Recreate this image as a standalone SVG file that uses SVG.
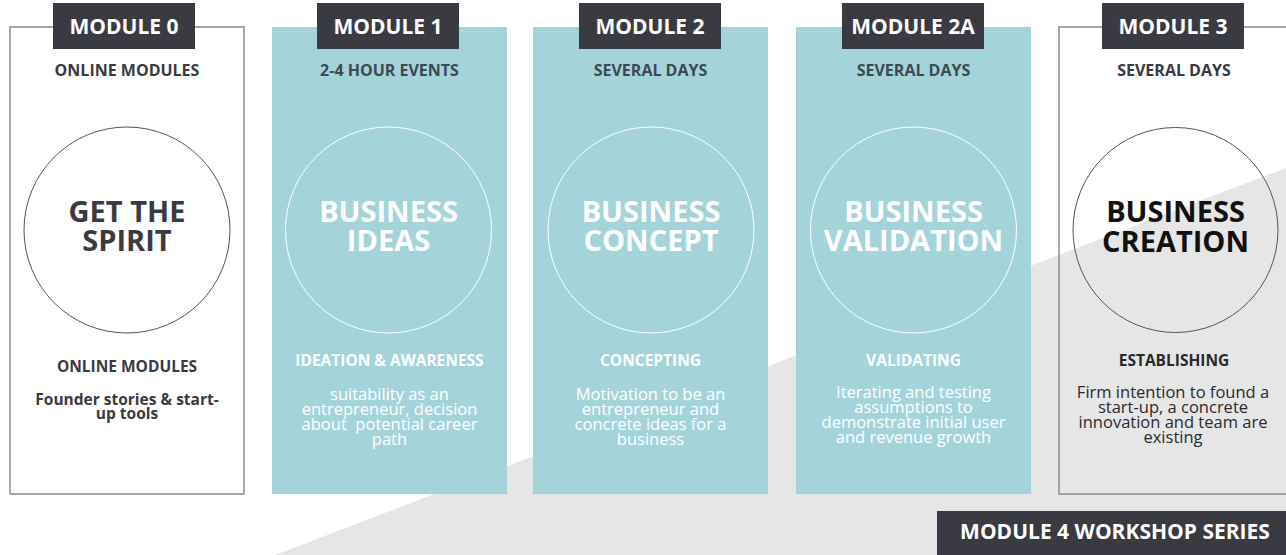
<svg xmlns="http://www.w3.org/2000/svg" width="1286" height="555" viewBox="0 0 1286 555">
<style>
text{font-family:"Open Sans","Liberation Sans",sans-serif;text-anchor:middle}
.frame{fill:none;stroke:#8c8c8c;stroke-width:1.5}
.white{fill:#ffffff}
.teal{fill:#a4d4da}
.hdr{fill:#3a3a42}
.hdrt{fill:#ffffff;font-weight:700;font-size:21px}
.sub{font-weight:700;font-size:16px}
.subd{fill:#3a3a42}
.subt{fill:#3d4a52}
.big{font-weight:700;font-size:29px}
.lbl{font-weight:700;font-size:15.5px}
.desc{font-size:16.5px}
.circd{fill:none;stroke:#555;stroke-width:1}
.circw{fill:none;stroke:#ffffff;stroke-width:1}
</style>
<rect x="0" y="0" width="1286" height="555" fill="#ffffff"/>
<polygon points="275,555 1286,168 1286,555" fill="#e6e6e6"/>

<g id="module0">
<rect x="10" y="27" width="234" height="467" class="white"/>
<rect x="10" y="27" width="234" height="467" class="frame"/>
<rect x="53" y="3" width="142" height="46" class="hdr"/>
<text x="124" y="34" class="hdrt">MODULE 0</text>
<text x="127" y="76" class="sub subd">ONLINE MODULES</text>
<circle cx="127" cy="230" r="103" class="circd"/>
<text x="127" y="222" class="big" fill="#3a3a42">GET THE</text>
<text x="127" y="251" class="big" fill="#3a3a42">SPIRIT</text>
<text x="127" y="372" class="lbl" fill="#3a3a42">ONLINE MODULES</text>
<text x="127" y="405" class="lbl" fill="#3a3a42" font-size="15px">Founder stories &amp; start-</text>
<text x="127" y="419" class="lbl" fill="#3a3a42" font-size="15px">up tools</text>
</g>

<g id="module1">
<rect x="272" y="27" width="235" height="467" class="teal"/>
<rect x="317" y="3" width="142" height="46" class="hdr"/>
<text x="388" y="34" class="hdrt">MODULE 1</text>
<text x="389.5" y="76" class="sub subt">2-4 HOUR EVENTS</text>
<circle cx="388.5" cy="230" r="103" class="circw"/>
<text x="388.5" y="222" class="big" fill="#ffffff">BUSINESS</text>
<text x="388.5" y="251" class="big" fill="#ffffff">IDEAS</text>
<text x="389.5" y="366" class="lbl" fill="#ffffff">IDEATION &amp; AWARENESS</text>
<g class="desc" fill="#ffffff">
<text x="389.5" y="400">suitability as an</text>
<text x="389.5" y="415">entrepreneur, decision</text>
<text x="389.5" y="430" xml:space="preserve">about  potential career</text>
<text x="389.5" y="445">path</text>
</g>
</g>

<g id="module2">
<rect x="533" y="27" width="235" height="467" class="teal"/>
<rect x="579" y="3" width="142" height="46" class="hdr"/>
<text x="650" y="34" class="hdrt">MODULE 2</text>
<text x="650.5" y="76" class="sub subt">SEVERAL DAYS</text>
<circle cx="651" cy="230" r="103" class="circw"/>
<text x="651" y="222" class="big" fill="#ffffff">BUSINESS</text>
<text x="651" y="251" class="big" fill="#ffffff">CONCEPT</text>
<text x="650.5" y="366" class="lbl" fill="#ffffff">CONCEPTING</text>
<g class="desc" fill="#ffffff">
<text x="650.5" y="400">Motivation to be an</text>
<text x="650.5" y="415">entrepreneur and</text>
<text x="650.5" y="430">concrete ideas for a</text>
<text x="650.5" y="445">business</text>
</g>
</g>

<g id="module2a">
<rect x="796" y="27" width="235" height="467" class="teal"/>
<rect x="842" y="3" width="142" height="46" class="hdr"/>
<text x="913" y="34" class="hdrt">MODULE 2A</text>
<text x="913.5" y="76" class="sub subt">SEVERAL DAYS</text>
<circle cx="913.5" cy="230" r="103" class="circw"/>
<text x="913.5" y="222" class="big" fill="#ffffff">BUSINESS</text>
<text x="913.5" y="251" class="big" fill="#ffffff">VALIDATION</text>
<text x="913.5" y="366" class="lbl" fill="#ffffff">VALIDATING</text>
<g class="desc" fill="#ffffff">
<text x="913.5" y="398">Iterating and testing</text>
<text x="913.5" y="413">assumptions to</text>
<text x="913.5" y="428">demonstrate initial user</text>
<text x="913.5" y="443">and revenue growth</text>
</g>
</g>

<g id="module3">
<rect x="1059" y="27" width="240" height="467" class="frame"/>
<rect x="1102" y="3" width="142" height="46" class="hdr"/>
<text x="1173" y="34" class="hdrt">MODULE 3</text>
<text x="1174" y="76" class="sub subd">SEVERAL DAYS</text>
<circle cx="1175.5" cy="230" r="102.5" class="circd"/>
<text x="1175.5" y="222" class="big" fill="#111111">BUSINESS</text>
<text x="1175.5" y="252" class="big" fill="#111111">CREATION</text>
<text x="1174" y="366" class="lbl" fill="#2a2a2e">ESTABLISHING</text>
<g class="desc" fill="#2a2a2e">
<text x="1173" y="398">Firm intention to found a</text>
<text x="1173" y="413">start-up, a concrete</text>
<text x="1173" y="428">innovation and team are</text>
<text x="1173" y="443">existing</text>
</g>
</g>

<g id="module4">
<rect x="937" y="511" width="349" height="44" class="hdr"/>
<text x="1115" y="539" class="hdrt" font-size="20px">MODULE 4 WORKSHOP SERIES</text>
</g>
</svg>
